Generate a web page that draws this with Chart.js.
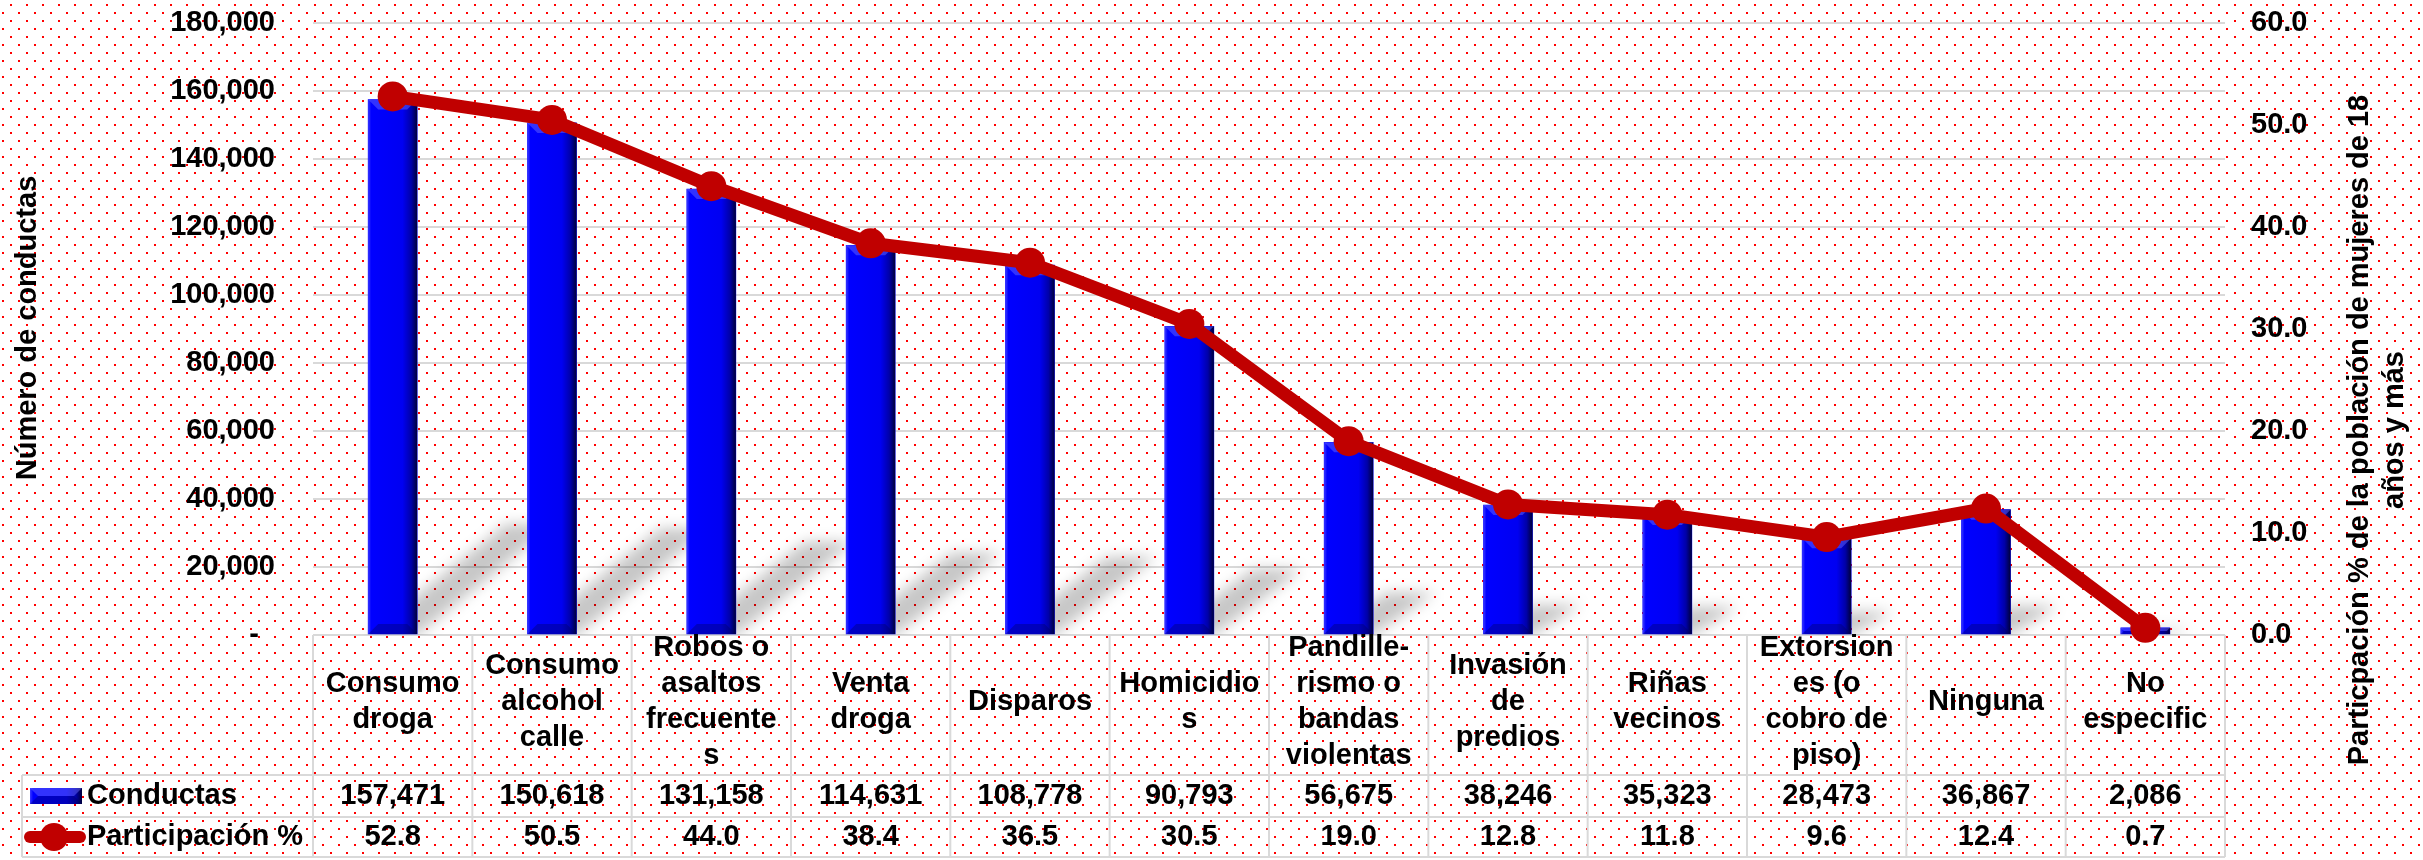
<!DOCTYPE html>
<html lang="es">
<head>
<meta charset="UTF-8">
<script src="https://cdn.jsdelivr.net/npm/chart.js@4.4.0/dist/chart.umd.min.js"></script>
<title>Conductas</title>
<style>
  html, body { margin: 0; padding: 0; background: #fff; }
  canvas { display: block; }
</style>
</head>
<body>
<canvas id="myChart" width="2423" height="860"></canvas>
<script>
// datos
var categories = [
  ['Consumo', 'droga'],
  ['Consumo', 'alcohol', 'calle'],
  ['Robos o', 'asaltos', 'frecuente', 's'],
  ['Venta', 'droga'],
  ['Disparos'],
  ['Homicidio', 's'],
  ['Pandille-', 'rismo o', 'bandas', 'violentas'],
  ['Invasión', 'de', 'predios'],
  ['Riñas', 'vecinos'],
  ['Extorsion', 'es (o', 'cobro de', 'piso)'],
  ['Ninguna'],
  ['No', 'especific']
];
var conductas = [157471, 150618, 131158, 114631, 108778, 90793, 56675, 38246, 35323, 28473, 36867, 2086];
var participacion = [52.8, 50.5, 44.0, 38.4, 36.5, 30.5, 19.0, 12.8, 11.8, 9.6, 12.4, 0.7];
var leftTickLabels = ['-  ', '20,000', '40,000', '60,000', '80,000', '100,000', '120,000', '140,000', '160,000', '180,000'];
var rightTickLabels = ['0.0', '10.0', '20.0', '30.0', '40.0', '50.0', '60.0'];
var seriesNames = ['Conductas', 'Participación %'];
var leftTitle = 'Número de conductas';
var rightTitle = ['Particpación % de la población de mujeres de 18', 'años y más'];

var FONT = '"Liberation Sans", Arial, sans-serif';
var RED = '#C00000';
var GRID = '#D9D9D9';
var W = 2423, H = 860;
var PLOT_LEFT = 313, PLOT_RIGHT = 2225, PLOT_TOP = 23, PLOT_BOTTOM = 635;
var TABLE_LEFT = 22, ROW1 = 775, ROW2 = 817, ROW3 = 857;

Chart.defaults.font.family = FONT;
Chart.defaults.font.weight = 'bold';
Chart.defaults.font.size = 29;
Chart.defaults.color = '#000';

function dotPattern(ctx) {
  var tile = document.createElement('canvas');
  tile.width = 16; tile.height = 16;
  var t = tile.getContext('2d');
  t.fillStyle = '#fff';
  t.fillRect(0, 0, 16, 16);
  t.fillStyle = '#FF0000';
  t.fillRect(10, 4, 2, 2);
  t.fillRect(2, 12, 2, 2);
  return ctx.createPattern(tile, 'repeat');
}

function poly(ctx, pts) {
  ctx.beginPath();
  ctx.moveTo(pts[0][0], pts[0][1]);
  for (var i = 1; i < pts.length; i++) ctx.lineTo(pts[i][0], pts[i][1]);
  ctx.closePath();
  ctx.fill();
}

function line(ctx, x1, y1, x2, y2) {
  ctx.beginPath();
  ctx.moveTo(x1, y1);
  ctx.lineTo(x2, y2);
  ctx.stroke();
}

function paintBar(ctx, l, r, top, bottom) {
  var g = ctx.createLinearGradient(l, 0, r, 0);
  g.addColorStop(0, '#3a3aff');
  g.addColorStop(0.06, '#0000ff');
  g.addColorStop(0.7, '#0000f2');
  g.addColorStop(0.88, '#0000a8');
  g.addColorStop(1, '#00003a');
  ctx.fillStyle = g;
  ctx.fillRect(l, top, r - l, bottom - top);
  var b = Math.min(10, (bottom - top) / 2);
  ctx.fillStyle = 'rgba(110,110,255,0.45)';
  poly(ctx, [[l, top], [r, top], [r - b, top + b], [l + b, top + b]]);
  ctx.fillStyle = 'rgba(0,0,90,0.35)';
  poly(ctx, [[l, bottom], [l + b, bottom - b], [r - b, bottom - b], [r, bottom]]);
}

var decor = {
  id: 'decor',
  beforeDraw: function (chart) {
    var ctx = chart.ctx;
    ctx.save();
    ctx.fillStyle = dotPattern(ctx);
    ctx.fillRect(0, 0, chart.width, chart.height);
    ctx.restore();
  },
  beforeDatasetsDraw: function (chart) {
    var ctx = chart.ctx;
    var area = chart.chartArea;
    var base = chart.scales.y.getPixelForValue(0);
    ctx.save();
    ctx.beginPath();
    ctx.rect(area.left, area.top, area.right - area.left, base - area.top);
    ctx.clip();
    ctx.filter = 'blur(7px)';
    ctx.fillStyle = 'rgba(0,0,0,0.22)';
    chart.getDatasetMeta(0).data.forEach(function (bar) {
      var h = base - bar.y;
      var dx = 0.22 * h + 20, dy = -0.2 * h - 4;
      var l = bar.x - bar.width / 2, r = bar.x + bar.width / 2;
      poly(ctx, [[l, base], [r, base], [r + dx, base + dy], [l + dx, base + dy]]);
    });
    ctx.restore();
  },
  afterDatasetDraw: function (chart, args) {
    if (args.index !== 0) return;
    var ctx = chart.ctx;
    ctx.save();
    args.meta.data.forEach(function (bar) {
      paintBar(ctx, bar.x - bar.width / 2, bar.x + bar.width / 2, bar.y, bar.base);
    });
    ctx.restore();
  },
  afterDraw: function (chart) {
    var ctx = chart.ctx;
    var xs = chart.scales.x;
    var step = xs.getPixelForValue(1) - xs.getPixelForValue(0);
    ctx.save();

    // rejilla de la tabla
    ctx.strokeStyle = GRID;
    ctx.lineWidth = 2;
    [ROW1, ROW2, ROW3].forEach(function (y) { line(ctx, TABLE_LEFT, y, PLOT_RIGHT, y); });
    line(ctx, TABLE_LEFT, ROW1, TABLE_LEFT, ROW3);
    for (var i = 0; i <= categories.length; i++) {
      var xb = xs.getPixelForValue(0) - step / 2 + i * step;
      line(ctx, xb, PLOT_BOTTOM, xb, ROW3);
    }

    // textos de la tabla
    ctx.fillStyle = '#000';
    ctx.font = 'bold 29px ' + FONT;
    ctx.textAlign = 'center';
    ctx.textBaseline = 'middle';
    var headMid = (PLOT_BOTTOM + ROW1) / 2 - 3;
    categories.forEach(function (lines, i) {
      var cx = xs.getPixelForValue(i);
      var y0 = headMid - (lines.length - 1) * 36 / 2;
      lines.forEach(function (t, j) { ctx.fillText(t, cx, y0 + j * 36); });
      ctx.fillText(conductas[i].toLocaleString('en-US'), cx, (ROW1 + ROW2) / 2);
      ctx.fillText(participacion[i].toFixed(1), cx, (ROW2 + ROW3) / 2);
    });

    // leyenda en la tabla
    paintBar(ctx, 30, 82, 788, 804);
    ctx.strokeStyle = RED;
    ctx.lineWidth = 12;
    ctx.lineCap = 'round';
    line(ctx, 30, (ROW2 + ROW3) / 2, 80, (ROW2 + ROW3) / 2);
    ctx.fillStyle = RED;
    ctx.beginPath();
    ctx.arc(54, (ROW2 + ROW3) / 2, 14, 0, Math.PI * 2);
    ctx.fill();
    ctx.fillStyle = '#000';
    ctx.textAlign = 'left';
    ctx.fillText(seriesNames[0], 87, (ROW1 + ROW2) / 2);
    ctx.fillText(seriesNames[1], 87, (ROW2 + ROW3) / 2);

    // títulos de ejes
    ctx.textAlign = 'center';
    ctx.save();
    ctx.translate(28, 328);
    ctx.rotate(-Math.PI / 2);
    ctx.fillText(leftTitle, 0, 0);
    ctx.restore();
    ctx.save();
    ctx.translate(2360, 430);
    ctx.rotate(-Math.PI / 2);
    rightTitle.forEach(function (t, j) { ctx.fillText(t, 0, j * 35); });
    ctx.restore();

    ctx.restore();
  }
};

var ctx = document.getElementById('myChart').getContext('2d');
var myChart = new Chart(ctx, {
  type: 'bar',
  data: {
    labels: categories,
    datasets: [{
      type: 'bar',
      label: seriesNames[0],
      data: conductas,
      backgroundColor: '#0000FF',
      borderWidth: 0,
      barThickness: 49,
      yAxisID: 'y',
      order: 2
    }, {
      type: 'line',
      label: seriesNames[1],
      data: participacion,
      borderColor: RED,
      backgroundColor: RED,
      borderWidth: 13,
      borderJoinStyle: 'round',
      borderCapStyle: 'round',
      pointRadius: 15,
      pointBorderWidth: 0,
      pointBackgroundColor: RED,
      tension: 0,
      clip: false,
      yAxisID: 'y1',
      order: 1
    }]
  },
  options: {
    responsive: false,
    devicePixelRatio: 1,
    animation: false,
    events: [],
    layout: { padding: { top: PLOT_TOP, bottom: H - PLOT_BOTTOM, left: 0, right: 0 } },
    plugins: { legend: { display: false }, tooltip: { enabled: false } },
    scales: {
      x: { display: false, offset: true },
      y: {
        position: 'left',
        min: 0, max: 180000,
        ticks: {
          stepSize: 20000,
          padding: 38,
          callback: function (v) { return leftTickLabels[Math.round(v / 20000)]; }
        },
        grid: { color: GRID, lineWidth: 2, drawTicks: false },
        border: { display: false },
        afterFit: function (s) { s.width = PLOT_LEFT; s.paddingTop = 0; s.paddingBottom = 0; }
      },
      y1: {
        position: 'right',
        min: 0, max: 60,
        ticks: {
          stepSize: 10,
          padding: 26,
          callback: function (v) { return rightTickLabels[Math.round(v / 10)]; }
        },
        grid: { drawOnChartArea: false, drawTicks: false },
        border: { display: false },
        afterFit: function (s) { s.width = W - PLOT_RIGHT; s.paddingTop = 0; s.paddingBottom = 0; }
      }
    }
  },
  plugins: [decor]
});
</script>
</body>
</html>
